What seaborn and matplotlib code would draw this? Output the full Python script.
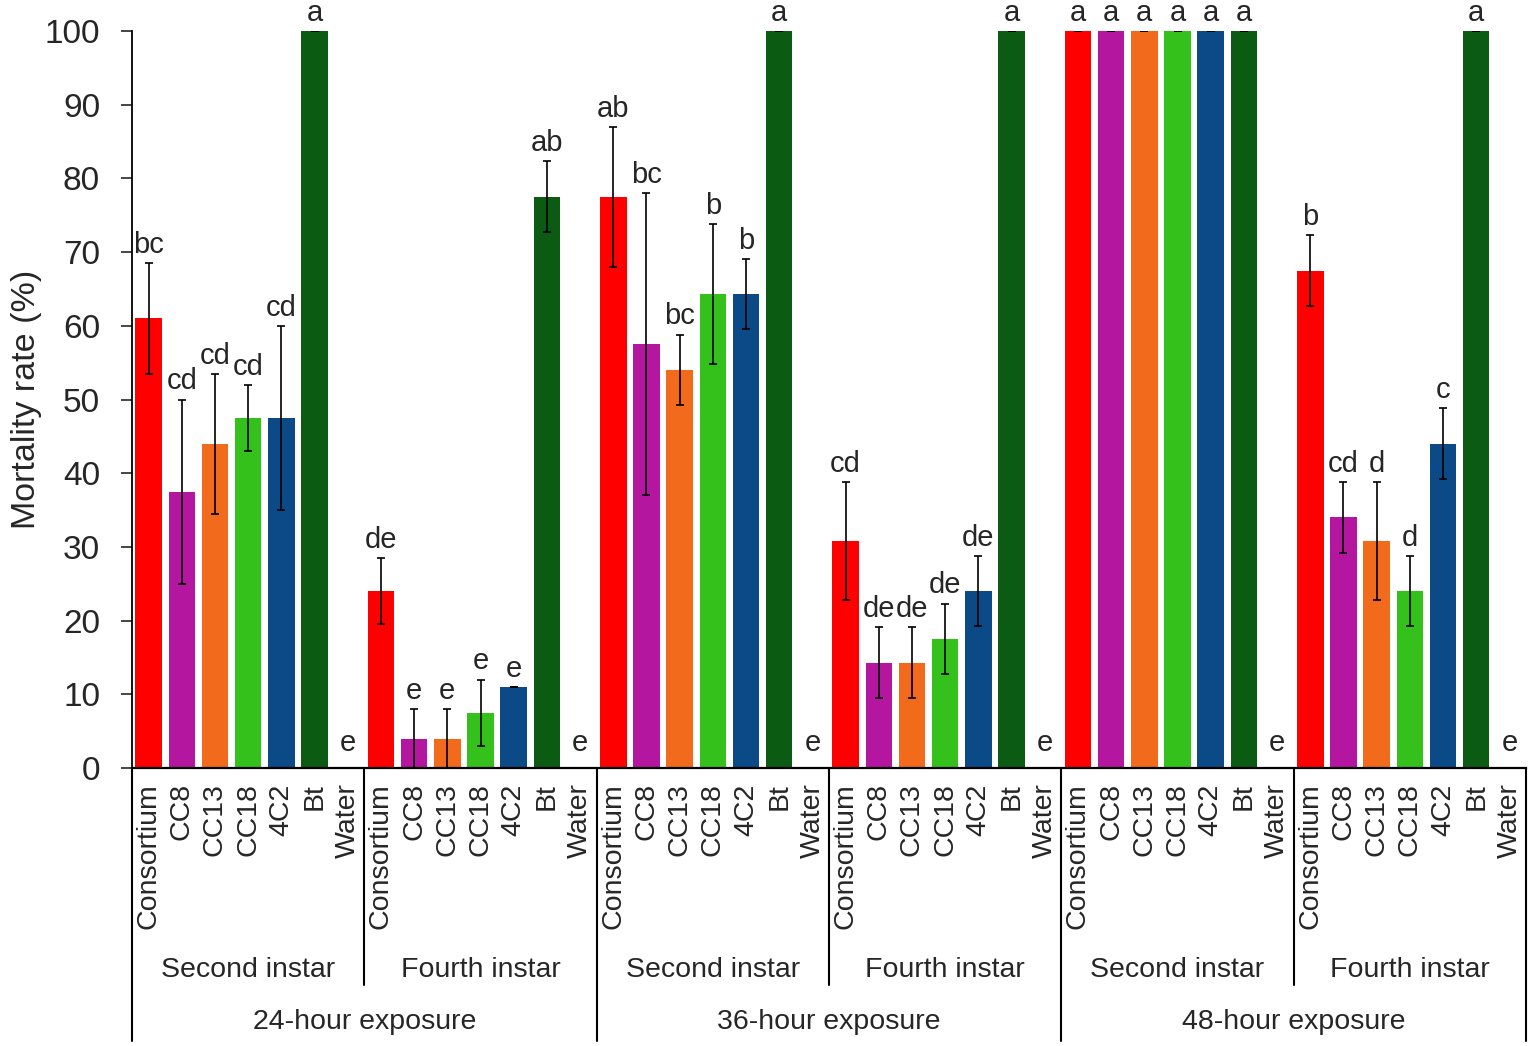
import numpy as np
import pandas as pd
import matplotlib
matplotlib.use("Agg")
import matplotlib.pyplot as plt
import seaborn as sns
from matplotlib.transforms import blended_transform_factory

strains = ["Consortium", "CC8", "CC13", "CC18", "4C2", "Bt", "Water"]
instars = ["Second instar", "Fourth instar"]
exposures = ["24-hour exposure", "36-hour exposure", "48-hour exposure"]
strain_colors = ["#FF0000", "#B4169F", "#F26A1C", "#34C11B", "#0B4A86",
                 "#0B5B12", "#FFFFFF"]

# mortality (%) per strain, error bar half-width and significance letters
mort_24_second = [61, 37.5, 44, 47.5, 47.5, 100, 0]
err_24_second = [7.5, 12.5, 9.5, 4.5, 12.5, 0, 0]
let_24_second = ["bc", "cd", "cd", "cd", "cd", "a", "e"]

mort_24_fourth = [24, 4, 4, 7.5, 11, 77.5, 0]
err_24_fourth = [4.5, 4, 4, 4.5, 0, 4.8, 0]
let_24_fourth = ["de", "e", "e", "e", "e", "ab", "e"]

mort_36_second = [77.5, 57.5, 54, 64.3, 64.3, 100, 0]
err_36_second = [9.5, 20.5, 4.8, 9.5, 4.8, 0, 0]
let_36_second = ["ab", "bc", "bc", "b", "b", "a", "e"]

mort_36_fourth = [30.8, 14.3, 14.3, 17.5, 24, 100, 0]
err_36_fourth = [8, 4.8, 4.8, 4.8, 4.8, 0, 0]
let_36_fourth = ["cd", "de", "de", "de", "de", "a", "e"]

mort_48_second = [100, 100, 100, 100, 100, 100, 0]
err_48_second = [0, 0, 0, 0, 0, 0, 0]
let_48_second = ["a", "a", "a", "a", "a", "a", "e"]

mort_48_fourth = [67.5, 34, 30.8, 24, 44, 100, 0]
err_48_fourth = [4.8, 4.8, 8, 4.8, 4.8, 0, 0]
let_48_fourth = ["b", "cd", "d", "d", "c", "a", "e"]

mortality = (mort_24_second + mort_24_fourth + mort_36_second +
             mort_36_fourth + mort_48_second + mort_48_fourth)
errors = (err_24_second + err_24_fourth + err_36_second +
          err_36_fourth + err_48_second + err_48_fourth)
letters = (let_24_second + let_24_fourth + let_36_second +
           let_36_fourth + let_48_second + let_48_fourth)


def main():
    sns.set_style("white")
    plt.rcParams["font.family"] = ["Liberation Sans", "DejaVu Sans"]

    df = pd.DataFrame({
        "slot": np.arange(len(mortality)),
        "strain": strains * 6,
        "mortality": mortality,
        "err": errors,
        "letter": letters,
    })

    fig = plt.figure(figsize=(15.35, 10.46), dpi=100)
    ax = fig.add_axes([132 / 1535, 278 / 1046, (1526 - 132) / 1535,
                       737 / 1046])

    sns.barplot(data=df, x="slot", y="mortality", hue="strain",
                hue_order=strains, palette=strain_colors, dodge=False,
                width=0.8, legend=False, errorbar=None, linewidth=0,
                saturation=1, ax=ax)
    ax.errorbar(df["slot"], df["mortality"], yerr=df["err"], fmt="none",
                ecolor="black", elinewidth=1.2, capsize=3, capthick=1.2)

    # significance letters above the error bars
    for _, row in df.iterrows():
        top = row["mortality"] + row["err"]
        offset = 8 if row["mortality"] == 0 else 3
        ax.annotate(row["letter"], (row["slot"], top),
                    xytext=(0, offset), textcoords="offset points",
                    ha="center", va="bottom", fontsize=21,
                    annotation_clip=False)

    ax.set_xlim(-0.5, len(mortality) - 0.5)
    ax.set_ylim(0, 100)
    ax.set_yticks(range(0, 101, 10))
    ax.set_xticks(range(len(mortality)))
    ax.set_xticklabels(strains * 6, rotation=90, fontsize=20.5)
    ax.tick_params(axis="x", length=0, pad=11)
    ax.tick_params(axis="y", length=8, width=1.2, direction="out",
                   labelsize=24, pad=15, left=True)
    ax.set_xlabel("")
    ax.set_ylabel("Mortality rate (%)", fontsize=24.5, labelpad=2)

    sns.despine(ax=ax, top=True, right=True)
    ax.spines["left"].set_linewidth(1.3)
    ax.spines["bottom"].set_linewidth(1.6)
    ax.spines["left"].set_color("black")
    ax.spines["bottom"].set_color("black")

    # grouping lines and labels under the axis
    trans = blended_transform_factory(ax.transData, ax.transAxes)
    for x in [-0.5, 13.5, 27.5, 41.5]:
        ax.plot([x, x], [0, -0.37], transform=trans, clip_on=False,
                color="black", lw=1.5)
    for x in [6.5, 20.5, 34.5]:
        ax.plot([x, x], [0, -0.295], transform=trans, clip_on=False,
                color="black", lw=1.5)
    for i in range(6):
        ax.text(7 * i + 3, -0.274, instars[i % 2], transform=trans,
                ha="center", va="center", fontsize=20.5)
    for j, name in enumerate(exposures):
        ax.text(14 * j + 6.5, -0.345, name, transform=trans,
                ha="center", va="center", fontsize=20.5)

    fig.savefig("out.png", dpi=100)


if __name__ == "__main__":
    main()
